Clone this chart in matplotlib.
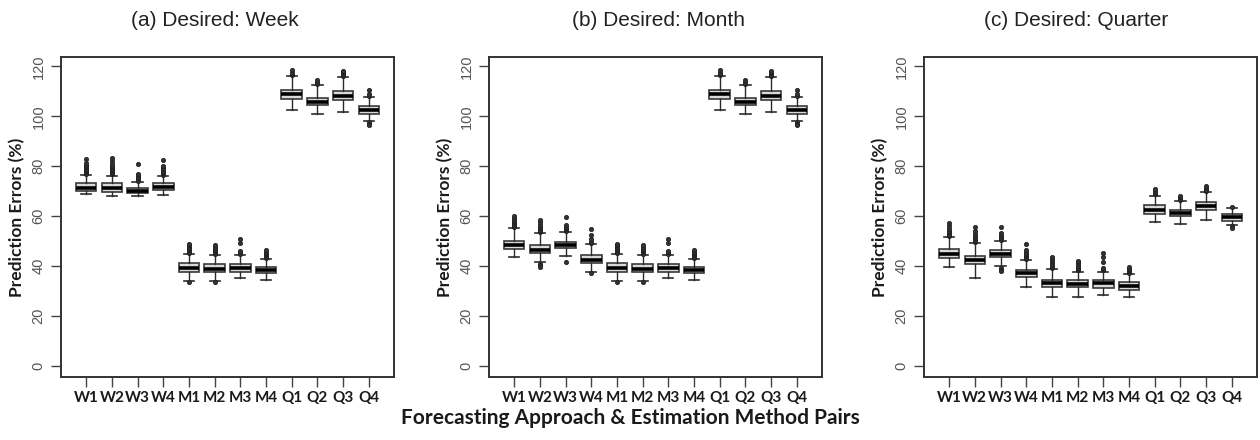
import matplotlib
matplotlib.use("Agg")
import matplotlib.pyplot as plt

categories = ["W1", "W2", "W3", "W4", "M1", "M2", "M3", "M4", "Q1", "Q2", "Q3", "Q4"]
titles = ["(a) Desired: Week", "(b) Desired: Month", "(c) Desired: Quarter"]
yticks = [0, 20, 40, 60, 80, 100, 120]

# ---- Panel (a) ----
a_whislo = [68.8, 68.0, 68.0, 68.4, 34.1, 34.1, 35.0, 34.4, 102.4, 101.0, 101.7, 98.2]
a_q1     = [70.1, 69.7, 69.1, 70.4, 37.7, 37.7, 37.7, 37.1, 107.1, 104.4, 106.4, 101.1]
a_med    = [71.3, 71.1, 70.1, 71.7, 39.3, 39.0, 39.2, 38.3, 108.8, 105.9, 108.3, 102.6]
a_q3     = [73.1, 73.1, 71.1, 73.1, 41.1, 40.7, 40.7, 39.5, 110.7, 107.3, 110.1, 104.0]
a_whishi = [76.4, 76.1, 73.7, 76.0, 44.8, 44.4, 44.4, 42.7, 116.0, 112.4, 115.7, 107.7]
a_fliers = [
    [77.0, 77.5, 78.0, 78.5, 79.0, 79.5, 80.0, 80.5, 81.5, 83.0],
    [76.8, 77.3, 77.8, 78.3, 78.8, 79.5, 80.2, 81.0, 82.0, 83.5],
    [74.2, 74.7, 75.2, 75.7, 76.3, 77.0, 80.8],
    [76.6, 77.1, 77.6, 78.1, 78.7, 79.3, 80.0, 82.4],
    [45.3, 45.8, 46.3, 46.8, 47.3, 47.8, 48.3, 49.0, 33.6],
    [45.0, 45.5, 46.0, 46.5, 47.0, 47.5, 48.5, 33.6],
    [45.0, 45.5, 46.0, 49.1, 50.7],
    [43.3, 43.8, 44.3, 44.8, 45.3, 45.8, 46.4],
    [116.5, 117.0, 117.5, 118.4],
    [113.0, 113.6, 114.4],
    [116.2, 116.7, 117.2, 117.6, 118.0],
    [108.3, 109.0, 110.4, 97.6, 97.1, 96.6],
]

# ---- Panel (b) ----
b_whislo = [43.5, 41.5, 44.0, 37.7, 34.1, 34.1, 35.0, 34.4, 102.4, 101.0, 101.7, 98.2]
b_q1     = [46.7, 45.1, 47.1, 41.3, 37.7, 37.7, 37.7, 37.1, 107.1, 104.4, 106.4, 101.1]
b_med    = [48.3, 46.5, 48.3, 42.6, 39.3, 39.0, 39.2, 38.3, 108.8, 105.9, 108.3, 102.6]
b_q3     = [50.1, 48.4, 49.7, 44.4, 41.1, 40.7, 40.7, 39.5, 110.7, 107.3, 110.1, 104.0]
b_whishi = [55.1, 53.1, 53.7, 48.7, 44.8, 44.4, 44.4, 42.7, 116.0, 112.4, 115.7, 107.7]
b_fliers = [
    [55.6, 56.1, 56.6, 57.1, 57.6, 58.1, 58.6, 59.2, 60.0],
    [53.6, 54.1, 54.6, 55.1, 55.8, 56.6, 57.5, 58.5, 40.9, 40.3, 39.7],
    [54.2, 54.7, 55.2, 55.7, 56.4, 59.7, 41.7],
    [49.2, 49.7, 50.7, 52.4, 54.7, 37.2],
    [45.3, 45.8, 46.3, 46.8, 47.3, 47.8, 48.3, 49.0, 33.6],
    [45.0, 45.5, 46.0, 46.5, 47.0, 47.5, 48.5, 33.6],
    [45.0, 45.5, 46.0, 49.1, 50.7],
    [43.3, 43.8, 44.3, 44.8, 45.3, 45.8, 46.4],
    [116.5, 117.0, 117.5, 118.4],
    [113.0, 113.6, 114.4],
    [116.2, 116.7, 117.2, 117.6, 118.0],
    [108.3, 109.0, 110.4, 97.6, 97.1, 96.6],
]

# ---- Panel (c) ----
c_whislo = [39.5, 35.0, 40.0, 31.5, 27.5, 27.5, 28.4, 27.7, 57.7, 57.0, 58.4, 56.4]
c_q1     = [43.1, 40.8, 43.5, 35.5, 31.5, 31.5, 31.1, 30.4, 61.0, 60.0, 62.6, 58.2]
c_med    = [45.0, 42.3, 45.0, 37.0, 33.0, 32.6, 33.0, 32.0, 62.5, 61.2, 64.0, 59.5]
c_q3     = [46.7, 44.0, 46.4, 38.4, 34.4, 34.4, 34.4, 33.7, 64.5, 62.6, 65.8, 61.0]
c_whishi = [51.5, 49.1, 50.1, 42.4, 38.7, 37.7, 37.7, 36.8, 68.2, 66.0, 69.5, 63.2]
c_fliers = [
    [52.0, 52.5, 53.0, 53.5, 54.2, 55.0, 56.0, 57.3],
    [49.6, 50.1, 50.6, 51.2, 52.0, 53.0, 54.0, 55.7],
    [50.6, 51.1, 51.6, 52.3, 53.2, 55.5, 39.2, 38.6, 38.1],
    [42.9, 43.4, 43.9, 44.4, 45.0, 45.6, 46.5, 48.8],
    [39.2, 39.8, 40.5, 41.3, 42.2, 43.0, 43.7],
    [38.2, 38.7, 39.3, 40.0, 40.8, 41.5, 42.1],
    [38.2, 38.7, 39.2, 41.5, 43.5, 45.1],
    [37.3, 37.8, 38.4, 39.0, 39.7],
    [68.7, 69.3, 70.0, 71.0],
    [66.5, 67.0, 67.6, 68.2],
    [70.0, 70.6, 71.3, 72.0],
    [63.8, 55.9, 55.4],
]

panels = [
    (a_whislo, a_q1, a_med, a_q3, a_whishi, a_fliers),
    (b_whislo, b_q1, b_med, b_q3, b_whishi, b_fliers),
    (c_whislo, c_q1, c_med, c_q3, c_whishi, c_fliers),
]

fig = plt.figure(figsize=(12.6, 4.4), dpi=100)
lefts = [61, 489, 924]
title_x = [215, 659, 1076]
axw = 333 / 1260
axb = 1 - 377 / 440
axh = (377 - 57) / 440

edge = "#2b2b2b"
for i, (wl, q1, md, q3, wh, fl) in enumerate(panels):
    ax = fig.add_axes([lefts[i] / 1260, axb, axw, axh])
    stats = []
    for j in range(len(categories)):
        stats.append(dict(whislo=wl[j], q1=q1[j], med=md[j], q3=q3[j],
                          whishi=wh[j], fliers=fl[j], label=categories[j]))
    positions = list(range(1, len(categories) + 1))
    ax.bxp(stats, positions=positions, widths=0.8, capwidths=0.4,
           patch_artist=True, showfliers=True,
           boxprops=dict(facecolor="#dadada", edgecolor="#3a3a3a", linewidth=1.2),
           medianprops=dict(color="black", linewidth=2.6, solid_capstyle="butt"),
           whiskerprops=dict(color=edge, linewidth=1.0),
           capprops=dict(color=edge, linewidth=1.2),
           flierprops=dict(marker="o", markersize=3.0, markerfacecolor="#333333",
                           markeredgecolor="#222222", markeredgewidth=0.6,
                           linestyle="none"))
    ax.set_xlim(0.02, 12.98)
    ax.set_ylim(-4.5, 123.8)
    ax.set_yticks(yticks)
    ax.set_yticklabels([str(v) for v in yticks], rotation=90, va="center",
                       color="#555555", fontsize=10.5, family="Liberation Sans")
    ax.set_xticks(positions)
    ax.set_xticklabels(categories, fontsize=11, fontweight="bold",
                       family="Lato", color="#1a1a1a")
    ax.tick_params(axis="both", length=7, width=1.0, color="#444444")
    ax.tick_params(axis="x", pad=3)
    ax.tick_params(axis="y", pad=4)
    for s in ax.spines.values():
        s.set_color("#333333")
        s.set_linewidth(1.4)
    ax.set_ylabel("Prediction Errors (%)", fontsize=12.5, fontweight="bold",
                  family="Lato", color="#1a1a1a", labelpad=5)
    fig.text(title_x[i] / 1260, 1 - 21 / 440, titles[i], ha="center", va="center",
             fontsize=15, family="Liberation Sans", color="#222222")

fig.text(630 / 1260, 1 - 418 / 440, "Forecasting Approach & Estimation Method Pairs",
         ha="center", va="center", fontsize=15, fontweight="bold",
         family="Lato", color="#1a1a1a")

fig.savefig("out.png", dpi=100)
